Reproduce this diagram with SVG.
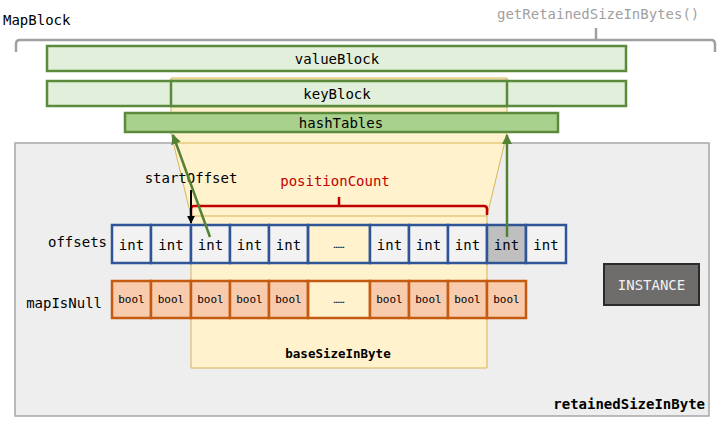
<svg xmlns="http://www.w3.org/2000/svg" width="720" height="424" viewBox="0 0 720 424">
<defs>
<style>
text{font-family:"DejaVu Sans Mono","Liberation Mono",monospace;font-size:14px;fill:#000;}
.c{text-anchor:middle;dominant-baseline:central;}
.blk{fill:#e2efda;stroke:#5b8a3c;stroke-width:2.5;}
.hash{fill:#a9d18e;stroke:#5b8a3c;stroke-width:2.5;}
.ic{fill:#f2f2f2;stroke:#2f5597;stroke-width:2.5;}
.bc{fill:#f8cbad;stroke:#c55a11;stroke-width:2.5;}
.bt{font-size:11px;}
.tan{stroke:#d6b656;stroke-width:1;fill:none;}
.g{stroke:#548235;stroke-width:2.5;fill:none;}
</style>
<marker id="ag" viewBox="0 0 10 10" refX="9" refY="5" markerWidth="4" markerHeight="4" orient="auto"><path d="M0,0 L10,5 L0,10 z" fill="#548235"/></marker>
<marker id="ab" viewBox="0 0 10 10" refX="9" refY="5" markerWidth="4" markerHeight="4" orient="auto"><path d="M0,0 L10,5 L0,10 z" fill="#000"/></marker>
</defs>
<rect width="720" height="424" fill="#fff"/>
<g id="retained">
<rect x="15" y="143" width="694" height="273" fill="#eeeeee" stroke="#a6a6a6" stroke-width="1.5"/>
<text x="705" y="404" text-anchor="end" font-weight="bold" dominant-baseline="central">retainedSizeInByte</text>
</g>
<g id="baseSize">
<polygon points="171,78 507,78 507,133 487,216 487,368 191,368 191,216 171,133" fill="#fff2cc" stroke="#d6b656" stroke-width="1"/>
<line class="tan" x1="173" y1="143" x2="505" y2="143"/>
<line class="tan" x1="191" y1="216" x2="487" y2="216"/>
<text class="c" x="338" y="353" font-weight="bold" style="font-size:12.5px">baseSizeInByte</text>
</g>
<g id="mapblock">
<text x="3" y="20" dominant-baseline="central">MapBlock</text>
<text x="497" y="14" dominant-baseline="central" style="fill:#a0a0a0">getRetainedSizeInBytes()</text>
<path d="M16,52 V44 Q16,40 20,40 H711 Q715,40 715,44 V52 M596,40 V28" fill="none" stroke="#a0a0a0" stroke-width="2.5"/>
</g>
<g id="valueBlock">
<rect class="blk" x="47" y="46" width="579" height="25"/>
<text class="c" x="337" y="59">valueBlock</text>
</g>
<g id="keyBlock">
<rect class="blk" x="47" y="81" width="579" height="25"/>
<rect class="blk" x="171" y="81" width="336" height="25"/>
<text class="c" x="337" y="94">keyBlock</text>
</g>
<g id="hashTables">
<rect class="hash" x="125" y="113" width="433" height="19"/>
<text class="c" x="341" y="123">hashTables</text>
</g>
<g id="offsets">
<text x="107" y="242" text-anchor="end" dominant-baseline="central">offsets</text>
<rect class="ic" x="112" y="225" width="39" height="38"/>
<rect class="ic" x="151" y="225" width="40" height="38"/>
<rect class="ic" x="191" y="225" width="39" height="38"/>
<rect class="ic" x="230" y="225" width="39" height="38"/>
<rect class="ic" x="269" y="225" width="39" height="38"/>
<rect class="ic" x="308" y="225" width="62" height="38" style="fill:none"/>
<rect class="ic" x="370" y="225" width="39" height="38"/>
<rect class="ic" x="409" y="225" width="39" height="38"/>
<rect class="ic" x="448" y="225" width="39" height="38"/>
<rect class="ic" x="487" y="225" width="39" height="38" style="fill:#bfbfbf"/>
<rect class="ic" x="526" y="225" width="40" height="38"/>
<text class="c" x="131.5" y="245">int</text>
<text class="c" x="171" y="245">int</text>
<text class="c" x="210.5" y="245">int</text>
<text class="c" x="249.5" y="245">int</text>
<text class="c" x="288.5" y="245">int</text>
<text class="c" x="339" y="245" style="font-size:9px">……</text>
<text class="c" x="389.5" y="245">int</text>
<text class="c" x="428.5" y="245">int</text>
<text class="c" x="467.5" y="245">int</text>
<text class="c" x="506.5" y="245">int</text>
<text class="c" x="546" y="245">int</text>
</g>
<g id="mapIsNull">
<text x="102" y="303" text-anchor="end" dominant-baseline="central">mapIsNull</text>
<rect class="bc" x="112" y="281" width="39" height="37"/>
<rect class="bc" x="151" y="281" width="40" height="37"/>
<rect class="bc" x="191" y="281" width="39" height="37"/>
<rect class="bc" x="230" y="281" width="39" height="37"/>
<rect class="bc" x="269" y="281" width="39" height="37"/>
<rect class="bc" x="308" y="281" width="62" height="37" style="fill:none"/>
<rect class="bc" x="370" y="281" width="39" height="37"/>
<rect class="bc" x="409" y="281" width="39" height="37"/>
<rect class="bc" x="448" y="281" width="39" height="37"/>
<rect class="bc" x="487" y="281" width="39" height="37"/>
<text class="c bt" x="131.5" y="299">bool</text>
<text class="c bt" x="171" y="299">bool</text>
<text class="c bt" x="210.5" y="299">bool</text>
<text class="c bt" x="249.5" y="299">bool</text>
<text class="c bt" x="288.5" y="299">bool</text>
<text class="c" x="339" y="300" style="font-size:9px">……</text>
<text class="c bt" x="389.5" y="299">bool</text>
<text class="c bt" x="428.5" y="299">bool</text>
<text class="c bt" x="467.5" y="299">bool</text>
<text class="c bt" x="506.5" y="299">bool</text>
</g>
<g id="instance">
<rect x="604" y="264" width="95" height="41" fill="#6f6c6c" stroke="#2b2b2b" stroke-width="2"/>
<text class="c" x="651.5" y="285" style="fill:#f2f2f2">INSTANCE</text>
</g>
<g id="positionCount">
<text class="c" x="335" y="181" style="fill:#c00000">positionCount</text>
<path d="M191,216 V209 Q191,206 194,206 H484 Q487,206 487,209 V215 M339,206 V197" fill="none" stroke="#c00000" stroke-width="2.5"/>
</g>
<g id="startOffset">
<text class="c" x="191" y="178">startOffset</text>
</g>
<g id="connectors">
<line x1="191" y1="190" x2="191" y2="223" stroke="#000" stroke-width="2" marker-end="url(#ab)"/>
<line class="g" x1="210" y1="237" x2="173" y2="135" marker-end="url(#ag)"/>
<line class="g" x1="507" y1="237" x2="507" y2="135" marker-end="url(#ag)"/>
</g>
</svg>
